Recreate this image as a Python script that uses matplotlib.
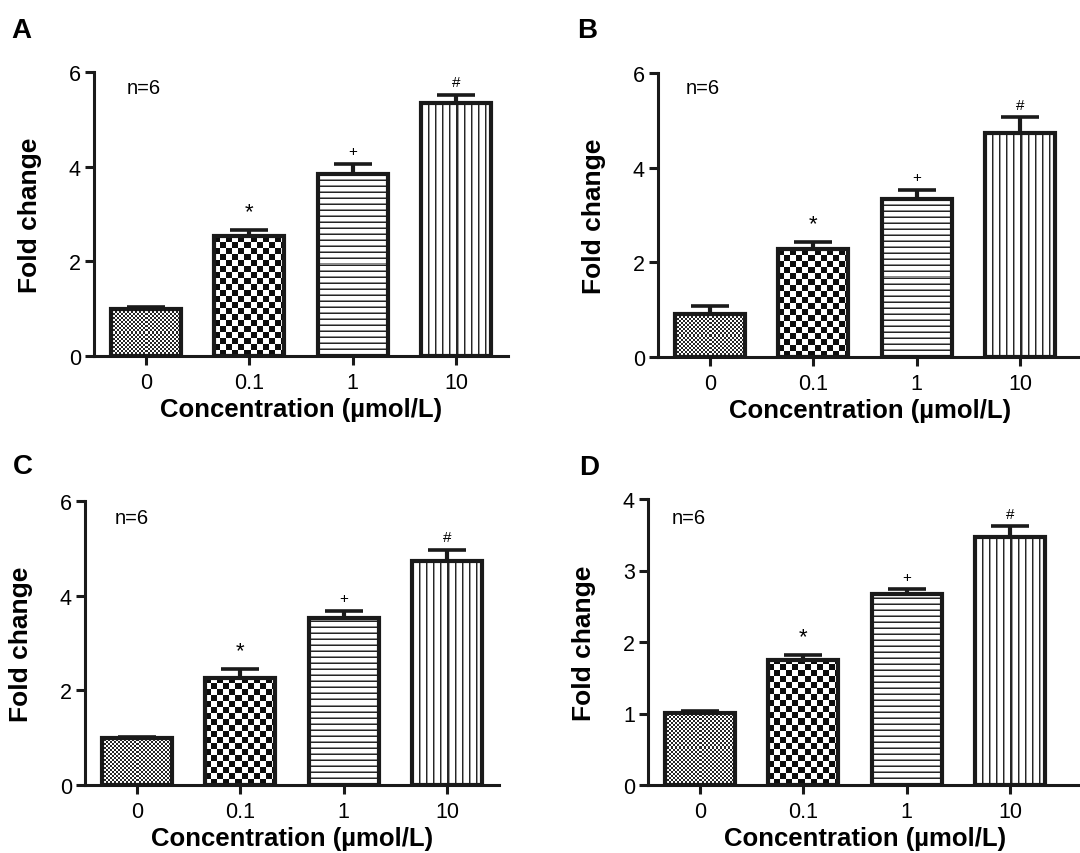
import numpy as np
import matplotlib
matplotlib.use("Agg")
import matplotlib.pyplot as plt

plt.rcParams['font.family'] = ['Liberation Sans', 'DejaVu Sans']

categories = ["0", "0.1", "1", "10"]
marks = ["", "*", "+", "#"]
panel_labels = ["A", "B", "C", "D"]

means_A = [1.00, 2.53, 3.85, 5.35]
sem_A = [0.03, 0.14, 0.21, 0.17]
means_B = [0.91, 2.28, 3.34, 4.73]
sem_B = [0.17, 0.15, 0.19, 0.34]
means_C = [0.99, 2.26, 3.53, 4.74]
sem_C = [0.03, 0.19, 0.15, 0.23]
means_D = [1.01, 1.75, 2.67, 3.47]
sem_D = [0.03, 0.07, 0.07, 0.15]

yticks_A = [0, 2, 4, 6]
yticks_B = [0, 2, 4, 6]
yticks_C = [0, 2, 4, 6]
yticks_D = [0, 1, 2, 3, 4]

W, H = 1080, 854
fig = plt.figure(figsize=(W / 100, H / 100), dpi=100)

UNIT = 103.5  # px per category
# layout: left px, baseline px (from top), top px, xmax
layouts = [
    (94, 357, 73, 3.5),
    (658, 358, 74, 3.6),
    (85, 786, 502, 3.5),
    (648, 786, 500, 3.7),
]
label_pos = [(11, 31), (577, 31), (13, 467), (579, 468)]
n_pos = [(33, 269), (28, 270), (30, 267), (24, 267)]

panels = [
    (means_A, sem_A, yticks_A),
    (means_B, sem_B, yticks_B),
    (means_C, sem_C, yticks_C),
    (means_D, sem_D, yticks_D),
]

BAR_W = 0.68
LINE = '#1a1a1a'


def pattern(kind, rows, cols):
    r = np.arange(rows)[:, None]
    c = np.arange(cols)[None, :]
    if kind == 0:
        a = ((r // 2 + c // 2) % 2).astype(float)
        a = np.where(a > 0, 0.15, 1.0)
    elif kind == 1:
        a = ((r // 6 + c // 6) % 2).astype(float)
        a = np.where(a > 0, 0.05, 1.0)
    elif kind == 2:
        m = (r % 6)
        a = np.where(m == 0, 0.15, np.where(m == 1, 0.55, 1.0)) * np.ones_like(c)
    else:
        m = (c % 7)
        a = np.where(m == 0, 0.15, np.where(m == 1, 0.6, 1.0)) * np.ones_like(r)
    return a


for i, ((means, sems, yticks), (lpx, base, top, xmax)) in enumerate(zip(panels, layouts)):
    xmin = -0.5
    wpx = (xmax - xmin) * UNIT
    hpx = base - top
    ax = fig.add_axes([lpx / W, 1 - base / H, wpx / W, hpx / H])
    ymax = yticks[-1]
    x = np.arange(len(categories))
    bars = ax.bar(x, means, width=BAR_W, facecolor='none', edgecolor=LINE,
                  linewidth=3.0, zorder=3, joinstyle='miter')
    ppu = hpx / ymax
    for k, b in enumerate(bars):
        bx, bw, bh = b.get_x(), b.get_width(), b.get_height()
        rows = max(int(round(bh * ppu)), 1)
        cols = int(round(bw * UNIT))
        img = pattern(k, rows, cols)
        im = ax.imshow(img, extent=[bx, bx + bw, 0, bh], origin='lower', cmap='gray',
                       vmin=0, vmax=1, interpolation='nearest', aspect='auto', zorder=2)
        im.set_clip_path(b)
    ax.errorbar(x, means, yerr=[np.zeros(len(means)), sems], fmt='none',
                ecolor=LINE, elinewidth=3.0, capsize=14, capthick=2.6, zorder=4)
    for k in range(len(categories)):
        if marks[k]:
            big = marks[k] == '*'
            ax.annotate(marks[k], (x[k], means[k] + sems[k]),
                        xytext=(0, 13 if big else 9), textcoords='offset points',
                        ha='center', va='center', fontsize=16 if big else 11,
                        color='black')
    ax.set_xlim(xmin, xmax)
    ax.set_ylim(0, ymax)
    ax.set_xticks(x)
    ax.set_xticklabels(categories)
    ax.set_yticks(yticks)
    ax.spines['top'].set_visible(False)
    ax.spines['right'].set_visible(False)
    for s in ['left', 'bottom']:
        ax.spines[s].set_linewidth(2.2)
        ax.spines[s].set_color(LINE)
    ax.spines['left'].set_bounds(0, ymax)
    ax.tick_params(axis='both', width=2.2, length=6.5, color=LINE, labelsize=15.5,
                   direction='out', pad=3)
    ax.tick_params(axis='x', pad=5)
    ax.set_xlabel("Concentration (µmol/L)", fontsize=18.5, fontweight='bold', labelpad=3)
    ax.set_ylabel("Fold change", fontsize=19, fontweight='bold', labelpad=19)
    ax.patch.set_alpha(0)
    ax.text(n_pos[i][0] / wpx, n_pos[i][1] / hpx, "n=6", transform=ax.transAxes,
            fontsize=14.5, ha='left', va='center')
    fig.text(label_pos[i][0] / W, 1 - label_pos[i][1] / H, panel_labels[i],
             fontsize=20, fontweight='bold', ha='left', va='center')

fig.savefig("out.png", dpi=100)
